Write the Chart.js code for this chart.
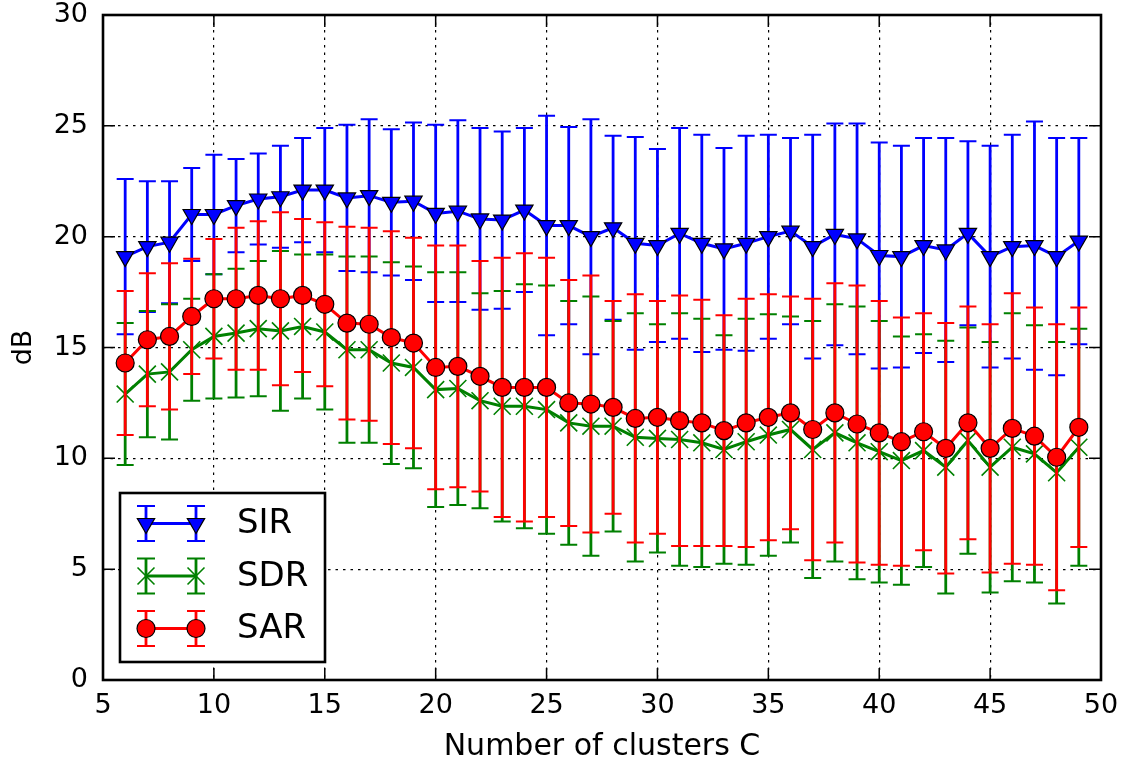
<!DOCTYPE html>
<html><head><meta charset="utf-8">
<script src="https://cdn.jsdelivr.net/npm/chart.js@4"></script>
<style>html,body{margin:0;padding:0;background:#fff}#wrap{width:1125px;height:765px}</style>
</head><body><div id="wrap"><canvas id="c" width="1125" height="765"></canvas></div>
<script>
const clusters = [6,7,8,9,10,11,12,13,14,15,16,17,18,19,20,21,22,23,24,25,26,27,28,29,30,31,32,33,34,35,36,37,38,39,40,41,42,43,44,45,46,47,48,49];
const sirMean = [19.1,19.55,19.75,21.0,21.0,21.4,21.7,21.8,22.1,22.1,21.75,21.85,21.55,21.6,21.05,21.15,20.8,20.75,21.2,20.5,20.5,20.0,20.4,19.7,19.6,20.15,19.7,19.45,19.7,20.0,20.25,19.55,20.1,19.9,19.15,19.1,19.6,19.4,20.15,19.1,19.55,19.6,19.1,19.8];
const sirStd = [3.5,2.95,2.75,2.1,2.7,2.1,2.05,2.3,2.35,2.8,3.3,3.45,3.3,3.55,4.0,4.1,4.1,4.0,3.7,4.95,4.45,5.3,4.15,4.8,4.35,4.75,4.9,4.55,4.85,4.6,4.2,5.05,5.0,5.2,5.1,5.0,4.85,5.05,4.15,5.0,5.05,5.6,5.35,4.65];
const sdrMean = [12.9,13.8,13.9,14.9,15.5,15.65,15.85,15.75,15.95,15.7,14.9,14.9,14.3,14.1,13.1,13.15,12.6,12.35,12.35,12.2,11.6,11.45,11.45,10.95,10.9,10.85,10.7,10.4,10.75,11.05,11.3,10.4,11.15,10.7,10.3,9.9,10.35,9.6,10.8,9.6,10.5,10.2,9.35,10.5];
const sdrStd = [3.2,2.85,3.05,2.3,2.8,2.9,3.05,3.6,3.25,3.5,4.2,4.2,4.55,4.55,5.3,5.25,4.85,5.2,5.5,5.6,5.5,5.85,4.75,5.6,5.15,5.7,5.6,5.15,5.55,5.45,5.1,5.8,5.8,6.15,5.9,5.6,5.25,5.7,5.1,5.65,6.05,5.8,5.9,5.35];
const sarMean = [14.3,15.35,15.5,16.4,17.2,17.2,17.35,17.2,17.35,16.95,16.1,16.05,15.45,15.2,14.1,14.15,13.7,13.2,13.2,13.2,12.5,12.45,12.3,11.8,11.85,11.7,11.6,11.25,11.6,11.85,12.05,11.3,12.05,11.55,11.15,10.75,11.2,10.45,11.6,10.45,11.35,11.0,10.05,11.4];
const sarStd = [3.25,3.0,3.3,2.6,2.7,3.2,3.35,3.9,3.45,3.7,4.35,4.35,4.8,4.75,5.5,5.45,5.2,5.85,6.05,5.85,5.55,5.8,4.8,5.6,5.25,5.65,5.55,5.2,5.6,5.55,5.25,5.9,5.85,6.25,5.95,5.6,5.35,5.65,5.25,5.6,6.1,5.8,6.0,5.4];
const seriesNames = ['SIR','SDR','SAR'];
const xTicks = [5,10,15,20,25,30,35,40,45,50];
const yTicks = [0,5,10,15,20,25,30];

const FONT = 'DejaVu Sans';
const toPts = (m) => clusters.map((c, i) => ({x: c, y: m[i]}));

const styles = [
  {color:'#0000ff', pointStyle:'triangle', rotation:180, radius:10, pointBorder:'#000000', pbw:1.2, fill:'#0000ff'},
  {color:'#008000', pointStyle:'crossRot', rotation:0, radius:12, pointBorder:'#008000', pbw:1.6, fill:'#008000'},
  {color:'#ff0000', pointStyle:'circle', rotation:0, radius:9, pointBorder:'#000000', pbw:1.2, fill:'#ff0000'}
];
const means = [sirMean, sdrMean, sarMean];
const stds = [sirStd, sdrStd, sarStd];

function drawErr(ctx, color, x, yLo, yHi, capHalf) {
  ctx.strokeStyle = color;
  ctx.lineWidth = 2.8;
  ctx.beginPath(); ctx.moveTo(x, yLo); ctx.lineTo(x, yHi); ctx.stroke();
  ctx.lineWidth = 2;
  ctx.beginPath();
  ctx.moveTo(x - capHalf, yLo); ctx.lineTo(x + capHalf, yLo);
  ctx.moveTo(x - capHalf, yHi); ctx.lineTo(x + capHalf, yHi);
  ctx.stroke();
}

const errorBarPlugin = {
  id: 'errbars',
  beforeDatasetDraw(chart, args) {
    const i = args.index;
    const {ctx, scales: {x, y}} = chart;
    const m = means[i], s = stds[i];
    ctx.save();
    for (let k = 0; k < clusters.length; k++) {
      const px = x.getPixelForValue(clusters[k]);
      drawErr(ctx, styles[i].color, px, y.getPixelForValue(m[k] - s[k]), y.getPixelForValue(m[k] + s[k]), 8.5);
    }
    ctx.restore();
  }
};

const framePlugin = {
  id: 'frame',
  afterDraw(chart) {
    const {ctx, chartArea: a, scales: {x, y}} = chart;
    ctx.save();
    ctx.strokeStyle = '#000';
    ctx.lineWidth = 1.5;
    ctx.beginPath();
    xTicks.forEach(t => {
      const px = x.getPixelForValue(t);
      ctx.moveTo(px, a.bottom); ctx.lineTo(px, a.bottom - 12);
      ctx.moveTo(px, a.top); ctx.lineTo(px, a.top + 12);
    });
    yTicks.forEach(t => {
      const py = y.getPixelForValue(t);
      ctx.moveTo(a.left, py); ctx.lineTo(a.left + 12, py);
      ctx.moveTo(a.right, py); ctx.lineTo(a.right - 12, py);
    });
    ctx.stroke();
    ctx.lineWidth = 2.6;
    ctx.strokeRect(a.left, a.top, a.right - a.left, a.bottom - a.top);

    // legend
    const bx = 120, by = 493, bw = 205, bh = 169;
    ctx.fillStyle = '#fff';
    ctx.fillRect(bx, by, bw, bh);
    ctx.lineWidth = 2.6;
    ctx.strokeStyle = '#000';
    ctx.strokeRect(bx, by, bw, bh);
    const rows = [523.5, 576, 628.5];
    const x1 = 146, x2 = 196;
    rows.forEach((ry, i) => {
      const st = styles[i];
      [x1, x2].forEach(px => drawErr(ctx, st.color, px, ry + 17.5, ry - 17.5, 9));
      ctx.strokeStyle = st.color; ctx.lineWidth = 3;
      ctx.beginPath(); ctx.moveTo(x1, ry); ctx.lineTo(x2, ry); ctx.stroke();
      [x1, x2].forEach(px => {
        ctx.fillStyle = st.fill; ctx.strokeStyle = st.pointBorder; ctx.lineWidth = st.pbw;
        Chart.helpers.drawPoint(ctx, {pointStyle: st.pointStyle, rotation: st.rotation, radius: st.radius, borderWidth: st.pbw}, px, ry);
      });
      ctx.fillStyle = '#000';
      ctx.font = '34px "' + FONT + '"';
      ctx.textBaseline = 'middle';
      ctx.textAlign = 'left';
      ctx.fillText(seriesNames[i], 237, ry + 1);
    });
    ctx.restore();
  }
};

const datasets = seriesNames.map((name, i) => ({
  label: name,
  data: toPts(means[i]),
  borderColor: styles[i].color,
  backgroundColor: styles[i].fill,
  borderWidth: 3,
  pointStyle: styles[i].pointStyle,
  pointRotation: styles[i].rotation,
  pointRadius: styles[i].radius,
  pointHoverRadius: styles[i].radius,
  pointBackgroundColor: styles[i].fill,
  pointBorderColor: styles[i].pointBorder,
  pointBorderWidth: styles[i].pbw,
  tension: 0,
  order: 2 - i
}));

new Chart(document.getElementById('c'), {
  type: 'line',
  data: { datasets },
  options: {
    responsive: false,
    animation: false,
    devicePixelRatio: 1,
    layout: { padding: { left: 0, right: 24, top: 15, bottom: 0 } },
    plugins: { legend: { display: false }, tooltip: { enabled: false } },
    scales: {
      x: {
        type: 'linear', min: 5, max: 50,
        afterFit(s) { s.height = 85; s.paddingLeft = 0; s.paddingRight = 0; },
        afterBuildTicks(s) { s.ticks = xTicks.map(v => ({value: v})); },
        ticks: { color: '#000', font: { family: FONT, size: 27 }, padding: 10, maxRotation: 0 },
        grid: { color: '#000', lineWidth: 1.2, drawTicks: false },
        border: { display: false, dash: [2.5, 5] },
        title: { display: true, text: 'Number of clusters C', color: '#000', font: { family: FONT, size: 30 }, padding: { top: 0, bottom: 0 } }
      },
      y: {
        type: 'linear', min: 0, max: 30,
        afterFit(s) { s.width = 103; s.paddingTop = 0; s.paddingBottom = 0; },
        afterBuildTicks(s) { s.ticks = yTicks.map(v => ({value: v})); },
        ticks: { color: '#000', font: { family: FONT, size: 27 }, padding: 15 },
        grid: { color: '#000', lineWidth: 1.2, drawTicks: false },
        border: { display: false, dash: [2.5, 5] },
        title: { display: true, text: 'dB', color: '#000', font: { family: FONT, size: 27 }, padding: { top: 8, bottom: 0 } }
      }
    }
  },
  plugins: [errorBarPlugin, framePlugin]
});
</script>
</body></html>
